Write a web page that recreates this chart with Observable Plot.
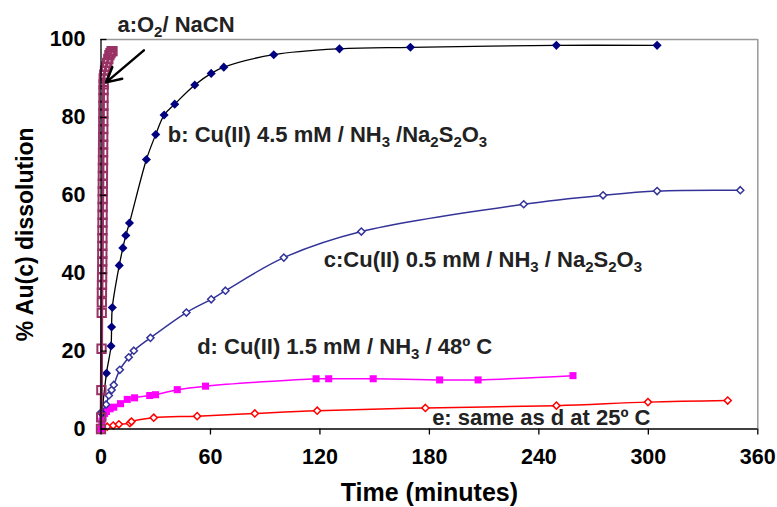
<!DOCTYPE html>
<html><head><meta charset="utf-8">
<script src="https://cdn.jsdelivr.net/npm/d3@7"></script>
<script src="https://cdn.jsdelivr.net/npm/@observablehq/plot@0.6"></script>
<style>body{margin:0;background:#fff}</style>
</head><body><div id="chart"></div>
<script>
// a: O2 / NaCN
const aTime = [0, 0.1, 0.2, 0.3, 0.4, 0.45, 0.5, 0.55, 0.6, 0.65, 0.7, 0.72, 0.75, 0.78, 0.8, 0.83, 0.86, 0.9, 0.93, 0.96, 1.0, 1.03, 1.06, 1.1, 1.13, 1.16, 1.2, 1.23, 1.26, 1.3, 1.33, 1.36, 1.4, 1.45, 1.5, 1.8, 2.2, 2.8, 3.4, 4.0, 4.6, 5.2, 5.8, 6.3];
const aPct  = [0, 3, 10, 20.6, 29.8, 32.5, 35, 37, 39, 41, 43, 45, 47, 49, 51, 53, 55, 57, 59, 61, 63, 65, 67, 69, 71, 73, 75, 77, 79, 81, 83, 85, 87, 88.5, 90, 91, 92, 93, 94, 95, 96, 96.5, 97, 97];
// b: Cu(II) 4.5 mM
const bTime = [0.5, 3, 5.5, 5.8, 6.2, 10, 12, 13.6, 15.6, 24.9, 30, 34.6, 40.4, 51.4, 60.4, 67.3, 94.7, 130.7, 169.6, 249.6, 304.8];
const bPct  = [4, 14.3, 21.3, 26.2, 31.2, 42, 46.5, 49.7, 52.9, 69.2, 75.6, 80.6, 83.4, 88.3, 91.3, 92.9, 96.1, 97.6, 98.0, 98.5, 98.5];
// c: Cu(II) 0.5 mM
const cTime = [0.1, 2.8, 4.3, 5.8, 7, 10.3, 15.2, 18, 27.1, 46.8, 60.4, 68.2, 100.2, 142.7, 231.7, 275.2, 304.8, 350.4];
const cPct  = [4.3, 6.3, 8.6, 10, 11.3, 15.2, 18.4, 20.1, 23.4, 29.9, 33.3, 35.5, 44, 50.7, 57.7, 60, 61.1, 61.3];
// d: Cu(II) 1.5 mM 48C
const dTime = [0, 0.5, 1, 2, 3, 5, 7, 10.7, 14.4, 18.4, 26.7, 29.9, 41.8, 57.3, 117.9, 124.8, 149.2, 185.6, 206.7, 258.7];
const dPct  = [0, 2, 3, 4, 4.5, 5.2, 5.6, 6.5, 7.6, 8, 8.6, 8.8, 10.1, 11, 12.9, 12.9, 12.9, 12.6, 12.6, 13.7];
// e: same as d at 25C
const eTime = [0, 1.5, 3.4, 6.7, 9.8, 15.8, 16.7, 28.9, 52.7, 84.3, 118.5, 177.8, 249.6, 299.8, 343.5];
const ePct  = [0, 0.5, 0.6, 0.9, 1.2, 1.5, 1.9, 2.9, 3.3, 4.0, 4.7, 5.4, 6.0, 6.9, 7.3];

const labelText = ["a:O_2/ NaCN", "b: Cu(II) 4.5 mM / NH_3 /Na_2S_2O_3", "c:Cu(II) 0.5 mM / NH_3 / Na_2S_2O_3", "d: Cu(II) 1.5 mM / NH_3 / 48º C", "e: same as d at 25º C"];
const labelTime = [9.0, 36.6, 122.1, 52.7, 181.5];
const labelPct  = [103.8, 75.5, 43.4, 21.1, 2.9];

const arrowTime = [23.5, 2.8];
const arrowPct  = [97.2, 89.0];

const xTicks = [0, 60, 120, 180, 240, 300, 360];
const yTicks = [0, 20, 40, 60, 80, 100];

const rows = (t, p) => t.map((x, i) => ({t: x, p: p[i]}));
const A = rows(aTime, aPct), B = rows(bTime, bPct), C = rows(cTime, cPct), D = rows(dTime, dPct), E = rows(eTime, ePct);
const labels = labelText.map((s, i) => ({s, t: labelTime[i], p: labelPct[i]}));
const arrows = [{x1: arrowTime[0], y1: arrowPct[0], x2: arrowTime[1], y2: arrowPct[1]}];

const plot = Plot.plot({
  width: 777, height: 507,
  marginLeft: 100.5, marginRight: 19.7, marginTop: 39, marginBottom: 78.5,
  x: {domain: [0, 360]},
  y: {domain: [0, 100]},
  style: {fontFamily: "'Liberation Sans', Arial, sans-serif", fontWeight: "bold", fontSize: "21px", background: "#fff", color: "#000"},
  marks: [
    Plot.ruleY([100], {stroke: "#999", strokeWidth: 1.5}),
    Plot.ruleX([360], {stroke: "#999", strokeWidth: 1.5}),
    Plot.line(E, {x: "t", y: "p", stroke: "#ff0000", curve: "catmull-rom", strokeWidth: 1.5}),
    Plot.dot(E, {x: "t", y: "p", symbol: "diamond2", r: 3.2, stroke: "#ff0000", fill: "white", strokeWidth: 1.5}),
    Plot.line(D, {x: "t", y: "p", stroke: "#ff00ff", curve: "catmull-rom", strokeWidth: 1.5}),
    Plot.dot(D, {x: "t", y: "p", symbol: "square2", r: 4.5, fill: "#ff00ff", stroke: "none"}),
    Plot.line(C, {x: "t", y: "p", stroke: "#333399", curve: "catmull-rom", strokeWidth: 1.5}),
    Plot.dot(C, {x: "t", y: "p", symbol: "diamond2", r: 3.2, stroke: "#333399", fill: "white", strokeWidth: 1.5}),
    Plot.line(B, {x: "t", y: "p", stroke: "#000", curve: "catmull-rom", strokeWidth: 1.3}),
    Plot.dot(B, {x: "t", y: "p", symbol: "diamond2", r: 4.1, fill: "#000080", stroke: "none"}),
    Plot.line(A, {x: "t", y: "p", stroke: "#993366", strokeWidth: 3}),
    Plot.dot(A, {x: "t", y: "p", symbol: "square2", r: 5.3, stroke: "#993366", fill: "none", strokeWidth: 2}),
    Plot.ruleY([0], {stroke: "#000", strokeWidth: 1.3}),
    Plot.ruleX([0], {stroke: "#000", strokeWidth: 1.3}),
    Plot.axisX({ticks: xTicks, tickSize: 6, tickPadding: 14, label: null, fontSize: 21.5, strokeWidth: 1.3}),
    Plot.axisY({ticks: yTicks, tickSize: 0, tickPadding: 15.5, label: null, fontSize: 21.5}),
    Plot.axisY({ticks: yTicks, tickSize: 6, text: null, dx: 6, label: null, strokeWidth: 1.3}),
    Plot.arrow(arrows, {x1: "x1", y1: "y1", x2: "x2", y2: "y2", stroke: "#000", strokeWidth: 2.5, headLength: 14, headAngle: 55}),
    Plot.text(labels, {x: "t", y: "p", text: "s", textAnchor: "start", fontSize: 22, fill: "#222"}),
    Plot.text(["Time (minutes)"], {frameAnchor: "bottom", dy: 63.5, fontSize: 25, textAnchor: "middle", lineAnchor: "middle"}),
    Plot.text(["% Au(c) dissolution"], {frameAnchor: "left", rotate: -90, dx: -75, fontSize: 23, textAnchor: "middle", lineAnchor: "middle"})
  ]
});

// subscripts
plot.querySelectorAll("text").forEach(t => {
  const s = t.textContent;
  if (!s.includes("_")) return;
  t.textContent = "";
  const parts = s.split(/_(\d)/);
  parts.forEach((p, i) => {
    if (!p) return;
    const ts = document.createElementNS("http://www.w3.org/2000/svg", "tspan");
    ts.textContent = p;
    if (i % 2 === 1) { ts.setAttribute("font-size", "15"); ts.setAttribute("dy", "5"); }
    else if (i > 0) { ts.setAttribute("dy", "-5"); }
    t.appendChild(ts);
  });
});

document.getElementById("chart").appendChild(plot);
</script>
</body></html>
